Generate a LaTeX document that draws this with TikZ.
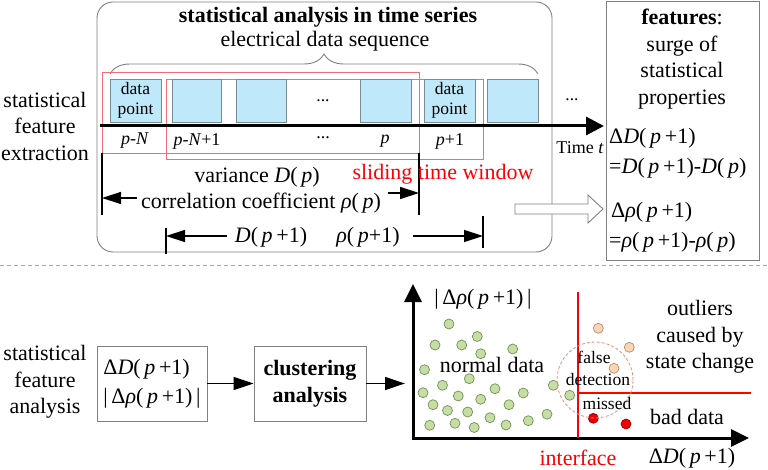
\documentclass[tikz,border=0pt]{standalone}
\usepackage{fontspec}
\setmainfont{Liberation Serif}
\usetikzlibrary{arrows.meta,decorations.pathreplacing}
\definecolor{boxblue}{RGB}{191,233,250}
\definecolor{boxedge}{RGB}{120,140,150}
\definecolor{winred}{RGB}{240,110,110}
\definecolor{sepred}{RGB}{240,140,120}
\definecolor{ptgreen}{RGB}{198,222,166}
\definecolor{ptgreenedge}{RGB}{115,145,85}
\definecolor{ptorange}{RGB}{250,212,182}
\definecolor{ptorangeedge}{RGB}{185,140,110}
\definecolor{ptred}{RGB}{235,0,0}
\definecolor{ptrededge}{RGB}{170,0,0}
\definecolor{framegray}{RGB}{128,128,128}
\newcommand{\myp}{\textit{p}}
\newcommand{\myD}{\textit{D}}
\newcommand{\myN}{\textit{N}}
\newcommand{\myrho}{\textit{ρ}}
\begin{document}
\begin{tikzpicture}[x=1pt,y=-1pt,
  big/.style={font=\fontsize{22}{26.5}\selectfont, inner sep=0pt, align=center},
  mid/.style={font=\fontsize{18}{21}\selectfont, inner sep=0pt, align=center},
  sml/.style={font=\fontsize{17.5}{20}\selectfont, inner sep=0pt, align=center},
  dbox/.style={draw=boxedge, fill=boxblue, line width=0.8pt, minimum height=43pt, inner sep=0pt, sml},
  frame/.style={draw=framegray, line width=0.9pt},
  dimarrow/.style={line width=1.4pt, -{Triangle[length=19pt,width=12pt]}},
  marker/.style={line width=1.4pt},
  flowarrow/.style={line width=1.3pt, -{Triangle[length=20pt,width=13pt]}},
  gpt/.style={fill=ptgreen, draw=ptgreenedge, line width=0.7pt},
  opt/.style={fill=ptorange, draw=ptorangeedge, line width=0.7pt},
  rpt/.style={fill=ptred, draw=ptrededge, line width=0.7pt}
]
\useasboundingbox (0,0) rectangle (768,470);

% ---------- top section ----------
\draw[frame, rounded corners=16pt] (97,2) rectangle (552,252);
\draw[frame] (606,1) rectangle (759,260);

\node[big] (lblext) at (45,126) {statistical\\feature\\extraction};
\node[big, font=\fontsize{22}{26.5}\selectfont\bfseries] (title) at (328,17) {statistical analysis in time series};
\node[big] (seq) at (325,41) {electrical data sequence};
\draw[framegray, line width=0.9pt, decorate, decoration={brace, amplitude=20pt}] (110,74) -- (538,74);

% sliding windows
\draw[winred, line width=0.8pt] (102,72) rectangle (419,153);
\draw[winred, line width=0.8pt] (166,79) rectangle (483,159);

% data boxes
\node[dbox, minimum width=51pt] (b1) at (135.5,100.5) {data\\point};
\node[dbox, minimum width=49pt] (b2) at (196.5,100.5) {};
\node[dbox, minimum width=50pt] (b3) at (261,100.5) {};
\node[sml] (dots1) at (323,101) {...};
\node[dbox, minimum width=51pt] (b4) at (385.5,100.5) {};
\node[dbox, minimum width=51pt] (b5) at (449.5,100.5) {data\\point};
\node[dbox, minimum width=51pt] (b6) at (512.5,100.5) {};
\node[sml] (dots2) at (572,100) {...};

% time axis
\coordinate (tstart) at (100,126);
\coordinate (tend) at (604,126);
\draw[line width=3pt, -{Triangle[length=18pt,width=18pt]}] (tstart) -- (tend);
\node[mid] (lpN) at (135,141) {\myp-\myN};
\node[mid] (lpN1) at (197,141) {\myp-\myN+1};
\node[mid] (ldots) at (323,138) {...};
\node[mid] (lp) at (385,141) {\myp};
\node[mid] (lp1) at (450,141) {\myp+1};
\node[mid] (ltime) at (580,148) {Time \textit{t}};

% dimension markers
\coordinate (m1a) at (102,153); \coordinate (m1b) at (102,215);
\coordinate (m2a) at (419,153); \coordinate (m2b) at (419,215);
\coordinate (m3a) at (166,228); \coordinate (m3b) at (166,254);
\coordinate (m4a) at (483,216); \coordinate (m4b) at (483,248);
\draw[marker] (m1a) -- (m1b);
\draw[marker] (m2a) -- (m2b);
\draw[marker] (m3a) -- (m3b);
\draw[marker] (m4a) -- (m4b);

\coordinate (a1s) at (137,198); \coordinate (a1e) at (102,198);
\coordinate (a2s) at (388,193); \coordinate (a2e) at (419,193);
\coordinate (a3s) at (227,236); \coordinate (a3e) at (166,236);
\coordinate (a4s) at (413,236); \coordinate (a4e) at (483,236);
\draw[dimarrow] (a1s) -- (a1e);
\draw[dimarrow] (a2s) -- (a2e);
\draw[dimarrow] (a3s) -- (a3e);
\draw[dimarrow] (a4s) -- (a4e);

\node[big] (var) at (257,177) {variance \myD(\,\myp)};
\node[big, text=red] (slide) at (443,174) {sliding time window};
\node[big] (corr) at (261,203) {correlation coefficient \myrho(\,\myp)};
\node[big] (dp1) at (271,237) {\myD(\,\myp\,+1)};
\node[big] (rp1) at (368,237) {\myrho(\,\myp+1)};

% hollow arrow
\draw[draw=framegray, fill=white, line width=0.9pt]
  (515,204) -- (588,204) -- (588,195) -- (603,209) -- (588,223) -- (588,214) -- (515,214) -- cycle;

% features box content
\node[big] (feat) at (682,59) {\textbf{features}:\\surge of\\statistical\\properties};
\node[big, anchor=west] (f1) at (609,138) {Δ\myD(\,\myp\,+1)};
\node[big, anchor=west] (f2) at (609,168) {=\myD(\,\myp\,+1)-\myD(\,\myp)};
\node[big, anchor=west] (f3) at (611,212) {Δ\myrho(\,\myp\,+1)};
\node[big, anchor=west] (f4) at (609,242) {=\myrho(\,\myp\,+1)-\myrho(\,\myp)};

% separator
\coordinate (sepl) at (0,265); \coordinate (sepr) at (768,265);
\draw[sepred, line width=0.8pt, dash pattern=on 4pt off 3pt] (sepl) -- (sepr);

% ---------- bottom section ----------
\node[big] (lblana) at (45,382) {statistical\\feature\\analysis};
\node[frame, minimum width=110pt, minimum height=75pt, inner sep=0pt, align=left,
      font=\fontsize{22}{29}\selectfont] (fbox) at (152,383.5)
  {Δ\myD(\,\myp\,+1)\\|\,Δ\myrho(\,\myp\,+1)\,|};
\node[frame, minimum width=112pt, minimum height=75pt, inner sep=0pt, align=center,
      font=\fontsize{22}{27}\selectfont\bfseries] (clus) at (310,383.5) {clustering\\analysis};
\coordinate (plotin) at (405,383.5);
\draw[flowarrow] (fbox) -- (clus);
\draw[flowarrow] (clus) -- (plotin);

% axes
\coordinate (ytip) at (413,284);
\coordinate (origin) at (413,438);
\coordinate (xtip) at (749,438);
\draw[line width=3pt, {Triangle[length=18pt,width=17pt]}-{Triangle[length=18pt,width=17pt]}] (ytip) -- (origin) -- (xtip);
\node[big] (ylab) at (483,299) {|\,Δ\myrho(\,\myp\,+1)\,|};
\node[big] (xlab) at (692,458) {Δ\myD(\,\myp\,+1)};
\node[big, text=red] (iface) at (578,458) {interface};

% interface lines
\coordinate (iv1) at (578,292); \coordinate (iv2) at (578,438);
\coordinate (ih1) at (578,393); \coordinate (ih2) at (751,393);
\draw[red, line width=1.5pt] (iv1) -- (iv2);
\draw[red, line width=1.5pt] (ih1) -- (ih2);

% green points
\foreach \px/\py in {449/324,435/345,461.7/345,477.3/336.5,480.7/353.7,512.7/349,
  424.5/369.7,469.3/378.7,442.5/385.3,423/392.7,458.3/396,495/388.7,523.3/393,
  553.3/385.3,569.7/395.3,480.7/399.3,433/404.7,509/404.7,447.5/410.5,467.7/412,
  547/414.2,490/417.7,528.3/420.7,429.7/425.3,455/423.3,474.2/427.5,506/425}
  \filldraw[gpt] (\px,\py) circle (5pt);

% orange and red points
\filldraw[opt] (598.3,328.3) circle (5pt);
\filldraw[opt] (629.3,347.3) circle (5pt);
\filldraw[opt] (614,368.3) circle (5pt);
\filldraw[rpt] (593.3,418.3) circle (5pt);
\filldraw[rpt] (626,424) circle (5pt);

% dashed circle
\draw[sepred, line width=0.8pt, dash pattern=on 3pt off 2pt] (595,380) circle (38pt);

\node[big] (normal) at (492,365) {normal data};
\node[big] (outl) at (700,337) {outliers\\caused by\\state change};
\node[big] (bad) at (687,417) {bad data};
\node[sml] (false) at (594,357) {false};
\node[sml] (detect) at (598,380) {detection};
\node[sml] (missed) at (607,404) {missed};
\end{tikzpicture}
\end{document}
